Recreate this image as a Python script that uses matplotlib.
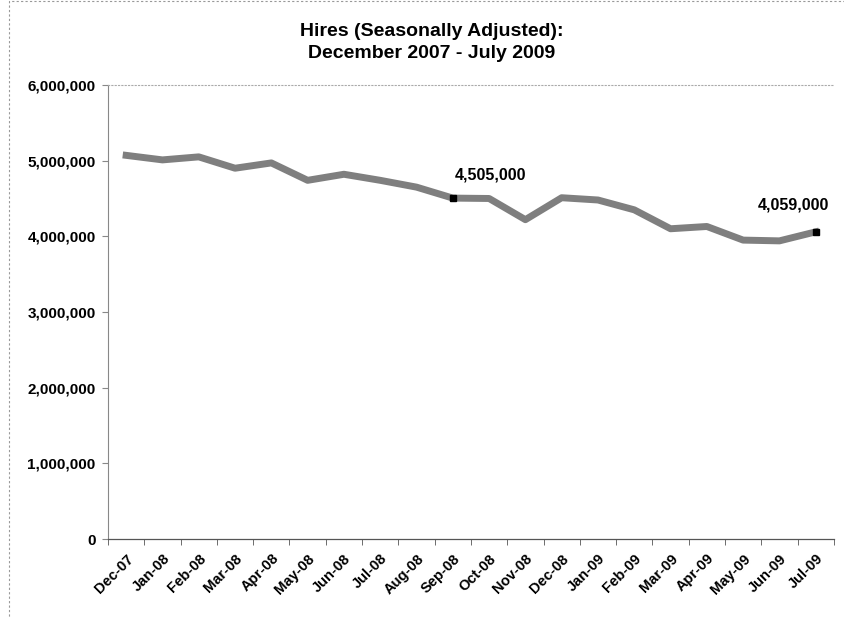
import numpy as np
import matplotlib
matplotlib.use("Agg")
import matplotlib.pyplot as plt
from matplotlib.ticker import FuncFormatter, FixedLocator
from matplotlib.patches import Rectangle

plt.rcParams['font.family'] = ['Liberation Sans', 'DejaVu Sans']
plt.rcParams['font.weight'] = 'bold'

months = ["Dec-07", "Jan-08", "Feb-08", "Mar-08", "Apr-08", "May-08", "Jun-08",
          "Jul-08", "Aug-08", "Sep-08", "Oct-08", "Nov-08", "Dec-08", "Jan-09",
          "Feb-09", "Mar-09", "Apr-09", "May-09", "Jun-09", "Jul-09"]
hires = [5070000, 5010000, 5050000, 4900000, 4970000, 4740000, 4820000,
         4740000, 4650000, 4505000, 4500000, 4220000, 4510000, 4480000,
         4350000, 4100000, 4130000, 3950000, 3940000, 4059000]
labeled = ["Sep-08", "Jul-09"]
label_offsets = {"Sep-08": (38, 23), "Jul-09": (-22, 27)}

fig = plt.figure(figsize=(8.44, 6.18), dpi=100)
ax = fig.add_axes([0.128, 0.1278, 0.86, 0.7347])

x = np.arange(len(months))
ax.plot(x, hires, color="#7f7f7f", lw=5, solid_joinstyle="round", zorder=2)

for m in labeled:
    i = months.index(m)
    ax.plot(x[i], hires[i], marker="s", ms=5, color="black", zorder=3)
    dx, dy = label_offsets[m]
    ax.annotate(f"{hires[i]:,}", (x[i], hires[i]), xytext=(dx, dy),
                textcoords="offset pixels", ha="center", va="center",
                fontsize=11.5, fontweight="bold")

ax.set_xlim(-0.5, len(months) - 0.5)
ax.set_ylim(0, 6000000)
ax.set_yticks(np.arange(0, 6000001, 1000000))
ax.yaxis.set_major_formatter(FuncFormatter(lambda v, p: f"{int(v):,}"))
ax.set_xticks(x)
ax.set_xticklabels(months, rotation=45, ha="right", rotation_mode="anchor")
ax.xaxis.set_minor_locator(FixedLocator(np.arange(-0.5, len(months), 1)))
ax.tick_params(axis="x", which="major", length=0, pad=9, labelsize=10.5)
ax.tick_params(axis="x", which="minor", length=4, color="#555555")
ax.tick_params(axis="y", length=4, color="#888888", labelsize=11, pad=5)
for lab in ax.get_xticklabels() + ax.get_yticklabels():
    lab.set_fontweight("bold")

ax.spines["right"].set_visible(False)
ax.spines["top"].set_linestyle((0, (1, 2)))
ax.spines["top"].set_color("#aaaaaa")
ax.spines["top"].set_linewidth(0.8)
ax.spines["left"].set_linestyle((0, (1, 1)))
ax.spines["left"].set_color("#888888")
ax.spines["left"].set_linewidth(0.8)
ax.spines["bottom"].set_color("#555555")
ax.spines["bottom"].set_linewidth(0.9)

fig.text(432 / 844, 1 - 32 / 618, "Hires (Seasonally Adjusted):",
         ha="center", va="center", fontsize=14, fontweight="bold")
fig.text(432 / 844, 1 - 53 / 618, "December 2007 - July 2009",
         ha="center", va="center", fontsize=14, fontweight="bold")

# outer chart border
fig.patches.append(Rectangle((9 / 844, -0.02), 0.995, 1.018, transform=fig.transFigure,
                             fill=False, ec="#999999", lw=0.8, ls=(0, (2, 2))))

fig.savefig("out.png", dpi=100)
